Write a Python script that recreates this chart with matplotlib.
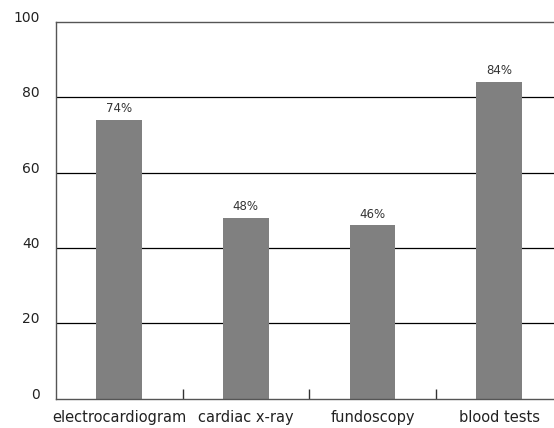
import matplotlib.pyplot as plt
from matplotlib.ticker import FixedLocator
import matplotlib.transforms as mtransforms

categories = ['electrocardiogram', 'cardiac x-ray', 'fundoscopy', 'blood tests']
percent = [74, 48, 46, 84]
y_ticks = [0, 20, 40, 60, 80, 100]

fig = plt.figure(figsize=(5.54, 4.28), dpi=100)
# axes runs slightly past the right edge, so the last gridlines are cut off
ax = fig.add_axes([0.101, 0.068, 0.914, 0.881])

x = range(len(categories))
ax.bar(x, percent, width=0.36, color='#808080', zorder=2)

for xi, v in zip(x, percent):
    ax.text(xi, v + 1.3, f'{v}%', ha='center', va='bottom', fontsize=8.5, color='#333333')

ax.set_xlim(-0.5, 3.5)
ax.set_ylim(0, 100)

# horizontal gridlines
for yv in y_ticks[1:-1]:
    ax.axhline(yv, color='black', linewidth=0.9, zorder=1)

ax.set_yticks(y_ticks)
ax.tick_params(axis='y', length=0, pad=11.5, labelsize=10, labelcolor='#222222')
offset = mtransforms.ScaledTranslation(0, 4 / 72, fig.dpi_scale_trans)
for lbl in ax.get_yticklabels():
    lbl.set_transform(lbl.get_transform() + offset)

ax.set_xticks(list(x))
ax.set_xticklabels(categories)
ax.tick_params(axis='x', which='major', length=0, pad=8, labelsize=10.5, labelcolor='#222222')
ax.xaxis.set_minor_locator(FixedLocator([0.5, 1.5, 2.5]))
ax.tick_params(axis='x', which='minor', direction='in', length=7, width=1, color='#333333')

for side in ['left', 'top', 'bottom']:
    ax.spines[side].set_color('#555555')
    ax.spines[side].set_linewidth(1)
ax.spines['right'].set_visible(False)

fig.savefig('out.png', dpi=100)
